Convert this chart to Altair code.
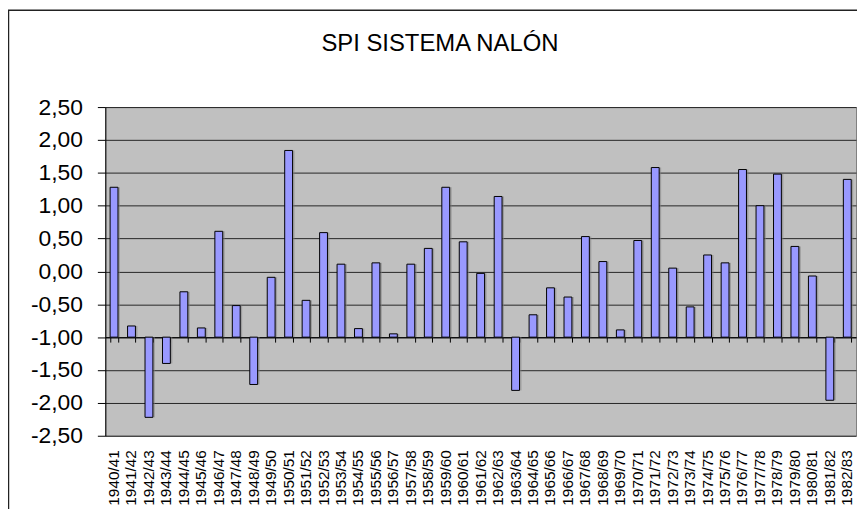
import altair as alt
import pandas as pd

seasons = [
    "1940/41", "1941/42", "1942/43", "1943/44", "1944/45", "1945/46", "1946/47",
    "1947/48", "1948/49", "1949/50", "1950/51", "1951/52", "1952/53", "1953/54",
    "1954/55", "1955/56", "1956/57", "1957/58", "1958/59", "1959/60", "1960/61",
    "1961/62", "1962/63", "1963/64", "1964/65", "1965/66", "1966/67", "1967/68",
    "1968/69", "1969/70", "1970/71", "1971/72", "1972/73", "1973/74", "1974/75",
    "1975/76", "1976/77", "1977/78", "1978/79", "1979/80", "1980/81", "1981/82",
    "1982/83",
]
spi = [
    1.28, -0.83, -2.22, -1.40, -0.31, -0.86, 0.61,
    -0.52, -1.72, -0.09, 1.84, -0.44, 0.59, 0.11,
    -0.87, 0.13, -0.95, 0.11, 0.35, 1.28, 0.45,
    -0.03, 1.14, -1.81, -0.66, -0.25, -0.39, 0.53,
    0.15, -0.89, 0.47, 1.58, 0.05, -0.54, 0.25,
    0.13, 1.55, 1.00, 1.48, 0.38, -0.07, -1.96,
    1.40,
]
y_ticks = [-2.5, -2.0, -1.5, -1.0, -0.5, 0.0, 0.5, 1.0, 1.5, 2.0, 2.5]
baseline = -1.0
title_text = "SPI SISTEMA NALÓN"

df = pd.DataFrame({"season": seasons, "spi": spi})

FONT = "Liberation Sans"
W, H = 756, 331
y_domain = [-2.5, 2.5]
axis_offset = -H * (baseline - y_domain[0]) / (y_domain[1] - y_domain[0])

x_scale = alt.Scale(paddingInner=0.55, paddingOuter=0.275)
y_scale = alt.Scale(domain=y_domain, nice=False, zero=False)

label_expr = "(datum.value < 0 ? '-' : '') + replace(format(abs(datum.value), '.2f'), '.', ',')"

y_axis = alt.Axis(values=y_ticks, labelExpr=label_expr, title=None,
                  labelFontSize=23, labelFont=FONT, labelColor="black",
                  labelPadding=15, labelOverlap=False, tickSize=8,
                  tickColor="black", domainColor="black", grid=True,
                  gridColor="#262626", gridWidth=1)

base = alt.Chart(df)

shadow = base.mark_bar(color="#808080", opacity=0.55, xOffset=2).encode(
    x=alt.X("season:N", sort=None, scale=x_scale,
            axis=alt.Axis(orient="bottom", offset=axis_offset, labels=False,
                          ticks=True, tickSize=5, tickColor="black",
                          tickBand="extent", domain=True, domainColor="black",
                          grid=False, title=None)),
    y=alt.Y("spi:Q", scale=y_scale, axis=y_axis),
    y2=alt.datum(baseline),
)

bars = base.mark_bar(color="#9999FF", stroke="black", strokeWidth=1).encode(
    x=alt.X("season:N", sort=None, scale=x_scale,
            axis=alt.Axis(orient="bottom", labelAngle=-90, labelFontSize=15.5,
                          labelFont=FONT, labelColor="black", labelPadding=14,
                          labelOverlap=False,
                          ticks=False, domain=False, grid=False, title=None)),
    y=alt.Y("spi:Q", scale=y_scale, axis=y_axis),
    y2=alt.datum(baseline),
    tooltip=["season", "spi"],
)

frame = alt.Chart(pd.DataFrame({"k": [0]})).mark_rect(
    fill=None, stroke="#222222", strokeWidth=1.5, clip=False
).encode(
    x=alt.value(-97.5), x2=alt.value(W + 20),
    y=alt.value(-97.5), y2=alt.value(H + 120),
)

chart = alt.layer(shadow, bars, frame).resolve_axis(x="independent").properties(
    width=W,
    height=H,
    autosize=alt.AutoSizeParams(type="none"),
    padding={"left": 98, "top": 98, "right": 1, "bottom": 72},
    background="white",
    title=alt.Title(title_text, font=FONT, fontSize=24, fontWeight="normal",
                    color="black", anchor="middle", dx=-41, offset=-47),
).configure_view(
    fill="#C0C0C0", stroke="#808080", strokeWidth=1
)

chart.save("out.html", embed_options={"renderer": "svg", "actions": False})
